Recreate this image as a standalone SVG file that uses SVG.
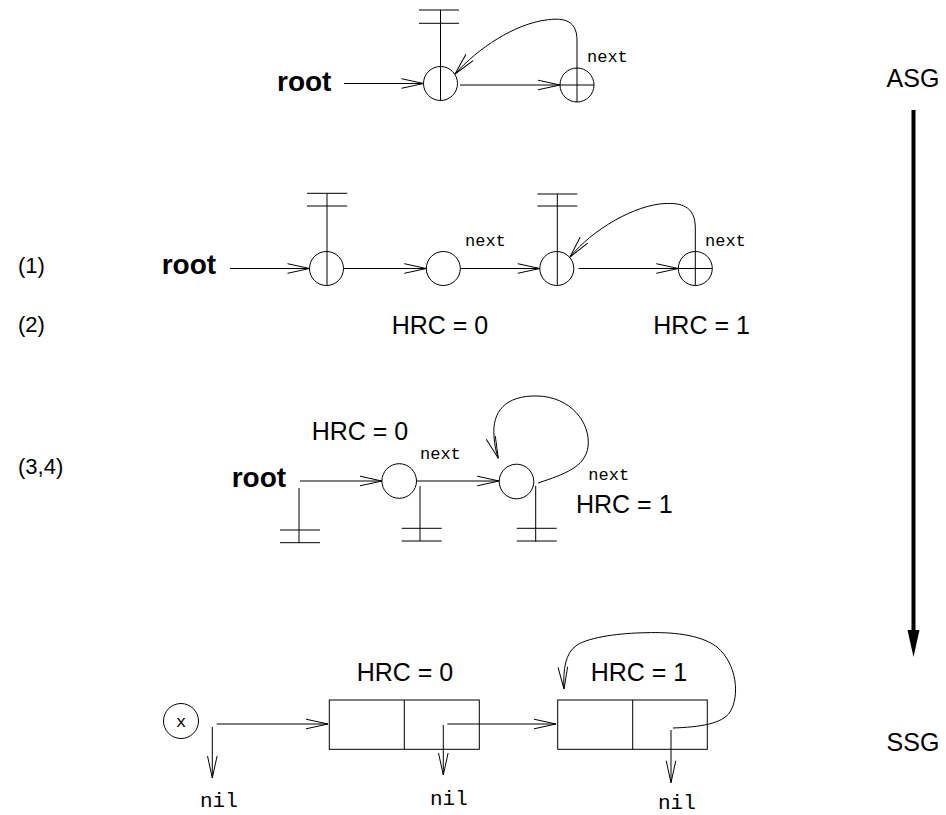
<svg xmlns="http://www.w3.org/2000/svg" width="946" height="815" viewBox="0 0 946 815">
<defs>
<style>
.s{fill:none;stroke:#000;stroke-width:1}
.lab{font-family:"Liberation Sans",Arial,sans-serif;font-size:25px;fill:#000}
.par{font-family:"Liberation Sans",Arial,sans-serif;font-size:22px;fill:#000}
.root{font-family:"Liberation Sans",Arial,sans-serif;font-size:28px;font-weight:bold;fill:#000}
.mono{font-family:"Liberation Mono","Courier New",monospace;font-size:17px;fill:#000}
.nil{font-family:"Liberation Mono","Courier New",monospace;font-size:21px;fill:#000}
.a{fill:none;stroke:#000;stroke-width:1;marker-end:url(#v)}
</style>
<marker id="v" markerUnits="userSpaceOnUse" markerWidth="30" markerHeight="16" refX="22" refY="6" orient="auto" overflow="visible">
<path d="M0,1.2 L22,6 L0,10.8" fill="none" stroke="#000" stroke-width="1"/>
</marker>
</defs>
<rect width="946" height="815" fill="#fff"/>

<!-- Row 1 -->
<g id="root1"><text class="root" x="277" y="91">root</text></g>
<g id="r1n1">
<line class="s" x1="419" y1="10" x2="459" y2="10"/>
<line class="s" x1="419" y1="23.3" x2="459" y2="23.3"/>
<line class="s" x1="440.5" y1="10" x2="440.5" y2="100.5"/>
<circle class="s" cx="440.5" cy="83.5" r="17"/>
</g>
<g id="r1n2">
<circle class="s" cx="577" cy="85" r="17"/>
<line class="s" x1="560" y1="85" x2="594" y2="85"/>
<line class="s" x1="577" y1="68" x2="577" y2="102"/>
<text class="mono" x="587" y="62">next</text>
</g>

<!-- Row 2 -->
<g id="lbl1"><text class="par" x="18" y="273">(1)</text></g>
<g id="lbl2"><text class="par" x="18" y="332">(2)</text></g>
<g id="root2"><text class="root" x="161.7" y="273.5">root</text></g>
<g id="r2n1">
<line class="s" x1="307" y1="193.3" x2="347.3" y2="193.3"/>
<line class="s" x1="307" y1="206" x2="347.3" y2="206"/>
<line class="s" x1="327" y1="193.3" x2="327" y2="285.5"/>
<circle class="s" cx="326.5" cy="268.5" r="17"/>
</g>
<g id="r2n2">
<circle class="s" cx="443.3" cy="268.5" r="17"/>
<text class="mono" x="465" y="245.7">next</text>
<text class="lab" x="391.7" y="334">HRC = 0</text>
</g>
<g id="r2n3">
<line class="s" x1="537.3" y1="194" x2="577.3" y2="194"/>
<line class="s" x1="537.3" y1="206" x2="577.3" y2="206"/>
<line class="s" x1="557.3" y1="194" x2="557.3" y2="285.5"/>
<circle class="s" cx="556.8" cy="268.5" r="17"/>
</g>
<g id="r2n4">
<circle class="s" cx="695.3" cy="268.5" r="17"/>
<line class="s" x1="678.3" y1="268.5" x2="712.3" y2="268.5"/>
<line class="s" x1="695.3" y1="251.5" x2="695.3" y2="285.5"/>
<text class="mono" x="705" y="245.7">next</text>
<text class="lab" x="653.3" y="334">HRC = 1</text>
</g>

<!-- Row 3 -->
<g id="lbl34"><text class="par" x="18" y="474">(3,4)</text></g>
<g id="root3">
<text class="root" x="231.7" y="487">root</text>
<line class="s" x1="299" y1="488" x2="299" y2="542.7"/>
<line class="s" x1="280" y1="530" x2="320" y2="530"/>
<line class="s" x1="280" y1="542.7" x2="320" y2="542.7"/>
</g>
<g id="r3n1">
<circle class="s" cx="399.2" cy="481" r="17.3"/>
<line class="s" x1="420" y1="486" x2="420" y2="541"/>
<line class="s" x1="401.7" y1="528.3" x2="441.7" y2="528.3"/>
<line class="s" x1="401.7" y1="541" x2="441.7" y2="541"/>
<text class="lab" x="311.7" y="440">HRC = 0</text>
<text class="mono" x="420" y="459">next</text>
</g>
<g id="r3n2">
<circle class="s" cx="516.5" cy="481.5" r="17.3"/>
<line class="s" x1="535.7" y1="486" x2="535.7" y2="541.7"/>
<line class="s" x1="516.7" y1="528.3" x2="556.7" y2="528.3"/>
<line class="s" x1="516.7" y1="541" x2="556.7" y2="541"/>
<text class="mono" x="588.3" y="480">next</text>
<text class="lab" x="576" y="513.3">HRC = 1</text>
</g>

<!-- Row 4 -->
<g id="varx">
<circle class="s" cx="181" cy="721" r="17.5"/>
<text class="mono" x="181" y="726.5" text-anchor="middle">x</text>
<text class="nil" x="200" y="807">nil</text>
</g>
<g id="cell1">
<rect class="s" x="329.3" y="700" width="150" height="49.3"/>
<line class="s" x1="404.3" y1="700" x2="404.3" y2="749.3"/>
<text class="lab" x="356.7" y="681">HRC = 0</text>
<text class="nil" x="430" y="805">nil</text>
</g>
<g id="cell2">
<rect class="s" x="557.7" y="700" width="149.6" height="49.3"/>
<line class="s" x1="632.7" y1="700" x2="632.7" y2="749.3"/>
<text class="lab" x="590.7" y="681">HRC = 1</text>
<text class="nil" x="658" y="809">nil</text>
</g>

<!-- Side -->
<g id="asg"><text class="lab" x="913" y="87" text-anchor="middle" font-size="24">ASG</text></g>
<g id="ssg"><text class="lab" x="913" y="751" text-anchor="middle" font-size="24">SSG</text></g>

<g id="connectors">
<!-- row 1 -->
<path class="a" d="M344,83.5 H423.5"/>
<path class="a" d="M460,85 H560"/>
<path class="a" d="M577,68 L577,40 C577,18 560,18 546,20 C515,24 478,48 455,74"/>
<!-- row 2 -->
<path class="a" d="M230,268.5 H309.5"/>
<path class="a" d="M344,268.5 H426.3"/>
<path class="a" d="M460.5,268.5 H539.8"/>
<path class="a" d="M578.5,268.5 H678.3"/>
<path class="a" d="M695.3,251.5 L695.3,228 C695.3,205 680,203 665,203.5 C635,205 593,229 570,257"/>
<!-- row 3 -->
<path class="a" d="M300,481 H382"/>
<path class="a" d="M416.7,481 H499.2"/>
<path class="a" d="M538,483 C565,474 585,467 588,447 C591,422 570,397 538,396 C505,395 492,412 494,436 C494.5,445 496,452 498.3,458.3"/>
<!-- row 4 -->
<path class="a" d="M216.7,724 H328"/>
<path class="a" d="M212.3,727 V778"/>
<path class="a" d="M447.3,724 H556"/>
<path class="a" d="M443.3,725 V775"/>
<path class="a" d="M671,730 V782.7"/>
<path class="a" d="M673,728 C700,727 722,724 730,712 C740,696 737,664 717,647 C700,634 670,632 647,632.7 C620,633 590,637 577,645 C565,653 563,670 564,689"/>
<!-- ASG to SSG -->
<line x1="913.5" y1="110" x2="913.5" y2="632" stroke="#000" stroke-width="4"/>
<polygon points="907.5,630 919.5,630 913.5,657" fill="#000"/>
</g>
</svg>
